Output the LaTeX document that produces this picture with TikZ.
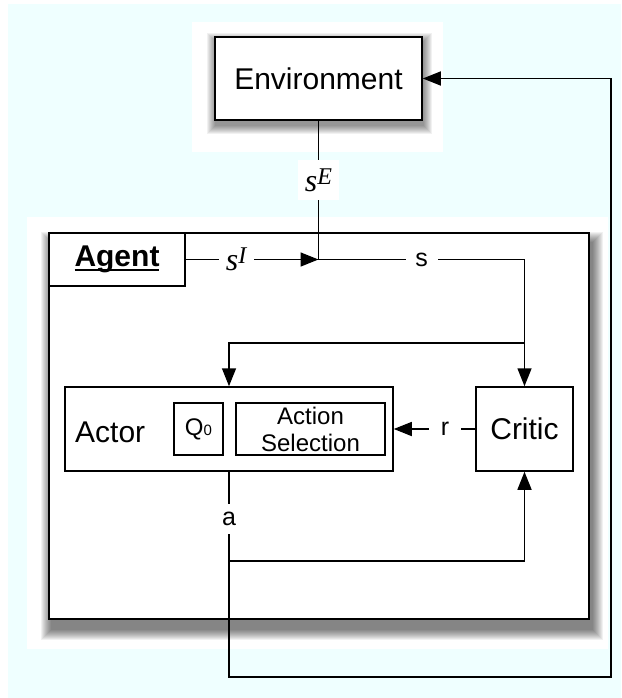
\documentclass[tikz,border=0pt]{standalone}
\usepackage{fontspec}
\setmainfont{Liberation Sans}
\newfontfamily\serifit{Liberation Serif}[ItalicFont={Liberation Serif Italic}]
\usetikzlibrary{arrows.meta,calc,backgrounds}
\definecolor{paleCyan}{RGB}{239,255,255}
% italic state symbol with a raised index, e.g. s^E
\newcommand\stateSym[1]{{\serifit\itshape\fontsize{32}{32}\selectfont s\raisebox{7pt}{\fontsize{24}{24}\selectfont #1}}}
% bold word with a heavy underline
\newcommand\heavyUnder[1]{\setbox0\hbox{#1}\leavevmode\rlap{\rule[-4pt]{\wd0}{1.8pt}}\box0}
% soft drop shadow: node name, offset right, offset down, spread steps
\newcommand\softShadow[4]{%
  \foreach \r in {0,...,#4}{%
    \fill[black, opacity=0.055]
      ([xshift={(#2-\r)*1pt}, yshift={-(#3-\r)*1pt}]#1.north west) rectangle
      ([xshift={(#2+\r)*1pt}, yshift={-(#3+\r)*1pt}]#1.south east);
  }}
\begin{document}
\begin{tikzpicture}[x=1pt,y=-1pt,
  box/.style={draw=black, line width=1.5pt, fill=white, inner sep=0pt, align=center},
  bigfont/.style={font=\fontsize{30}{30}\selectfont},
  conn/.style={line width=1.5pt},
  arr/.style={conn, -{Triangle[length=18pt,width=14pt]}},
  lbl/.style={fill=white, inner sep=1pt, minimum width=32pt, minimum height=30pt, font=\fontsize{25}{25}\selectfont},
  ]
\useasboundingbox (0,0) rectangle (621,698);

% boxes
\node[box, bigfont, minimum width=207pt, minimum height=83pt] (env) at (318.5,78.5) {Environment};
\node[box, minimum width=540pt, minimum height=386pt] (agent) at (319,426) {};
\node[box, minimum width=136pt, minimum height=53pt, font=\fontsize{30}{30}\selectfont\bfseries] (agentlbl) at (117,259.5) {\heavyUnder{Agent}};
\node[box, minimum width=328pt, minimum height=84pt] (actor) at (229,429) {};
\node[anchor=base west, inner sep=0pt, bigfont] (actortxt) at (75,442) {Actor};
\node[box, minimum width=49pt, minimum height=52pt, font=\fontsize{24}{24}\selectfont] (q0) at (198.5,429) {Q{\fontsize{15}{15}\selectfont 0}};
\node[box, minimum width=149pt, minimum height=52pt, font=\fontsize{24}{27}\selectfont] (actsel) at (310.5,429) {Action\\Selection};
\node[box, bigfont, minimum width=97pt, minimum height=84pt] (critic) at (524.5,429) {Critic};

% backdrop and shadows
\begin{scope}[on background layer]
  \fill[paleCyan] (8,4) rectangle (621,698);
  \fill[white] (192,22) rectangle (443,152);
  \fill[white] (27,217) rectangle (608,649);
  \softShadow{env}{1}{5}{8}
  \softShadow{agent}{3}{10}{10}
\end{scope}

% junction points
\coordinate (J) at (318.5,259.5);
\coordinate (split) at (524.5,343);
\coordinate (aSplit) at (229,561);
\coordinate (loopBL) at (229,677);
\coordinate (loopBR) at (611,677);

% state from the environment
\draw[conn] (env.south) -- node[fill=white, inner sep=0pt, minimum width=41pt, minimum height=40pt, pos=0.43] (sE) {\stateSym{E}} (J);
\draw[arr] (agentlbl.east) -- node[fill=white, inner sep=0pt, minimum width=35pt, minimum height=34pt, pos=0.38] (sI) {\stateSym{I}} (J);
\draw[arr] (J) -- node[lbl] (slbl) {s} (J -| critic.north) -- (critic.north);
\draw[arr] (split) -| (actor.north);

% reward
\draw[arr] (critic.west) -- node[lbl, pos=0.37] (rlbl) {r} (actor.east);

% action
\draw[arr] (actor.south) -- node[lbl, pos=0.228] (albl) {a} (loopBL) -- (loopBR) |- (env.east);
\draw[arr] (aSplit) -| (critic.south);
\end{tikzpicture}
\end{document}
